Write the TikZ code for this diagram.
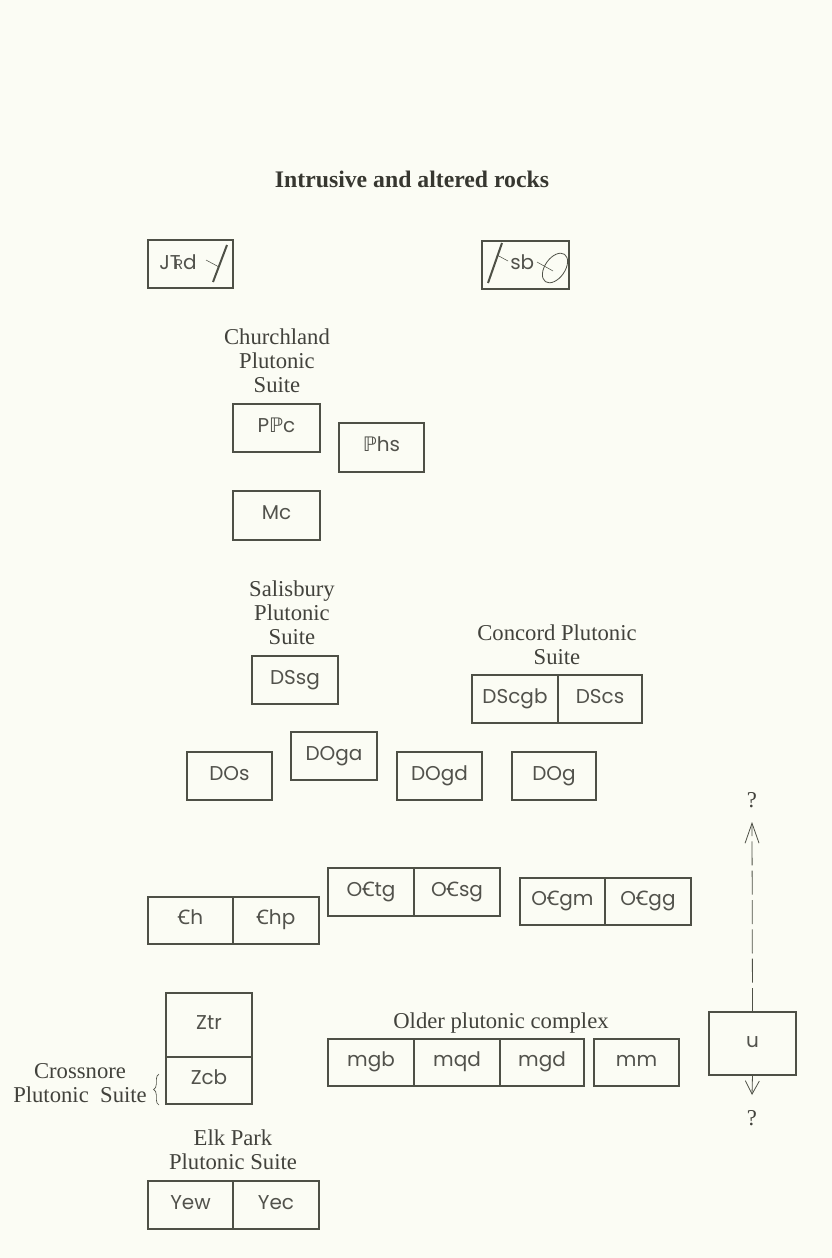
\documentclass[tikz,border=0pt]{standalone}
\usepackage{fontspec}
\usepackage{graphicx}
\setmainfont{Liberation Serif}
\newfontfamily\boxfont{Poppins}
\newfontfamily\dvs{DejaVu Sans}
\newfontfamily\notos{Noto Sans}
\usetikzlibrary{arrows.meta,decorations.pathreplacing}
\definecolor{paper}{RGB}{251,252,244}
\definecolor{ink}{RGB}{78,80,70}
\definecolor{txt}{RGB}{82,82,76}
\definecolor{labc}{RGB}{66,66,60}
\definecolor{titlec}{RGB}{55,55,48}
\newcommand\Tri{T\kern-0.30em\scalebox{0.7}{R}}
\newcommand\Penn{{\dvs ℙ}}
\newcommand\Camb{{\notos Ꞓ}}
\newcommand\bx[6]{\node[cell, minimum width={(#4-#2)*0.75pt}, minimum height={(#5-#3)*0.75pt}] (#1) at ({(#2+#4)/2},{(#3+#5)/2}) {#6};}
\begin{document}
\begin{tikzpicture}[x=0.75pt,y=-0.75pt,
  cell/.style={draw=ink, line width=0.8pt, inner sep=0pt, outer sep=0pt, font=\boxfont\fontsize{15}{17}\selectfont, text=txt, text height=0.8em, text depth=0.2em},
  lab/.style={font=\fontsize{17}{18}\selectfont, text=labc, align=center, inner sep=0pt},
  sym/.style={font=\boxfont\fontsize{15}{17}\selectfont, text=txt, inner sep=0pt},
  thin/.style={draw=ink, line width=0.4pt},
  thick/.style={draw=ink, line width=1.5pt}]
\useasboundingbox[fill=paper] (0,0) rectangle (832,1258);

\node[font=\bfseries\fontsize{17.8}{20}\selectfont, text=titlec, inner sep=0pt] (title) at (412,179) {Intrusive and altered rocks};

% top symbol boxes
\bx{jtrd}{148}{240}{233}{288}{}
\node[sym, anchor=base west] (jtrdt) at (159,269) {J\Tri d};
\draw[thin] (206,260) -- (219,267);
\draw[thick] (227,245) -- (213,282);

\bx{sb}{482}{241}{569}{289}{}
\node[sym, anchor=base west] (sbt) at (510,269) {sb};
\draw[thick] (502,243) -- (488,283);
\draw[thin] (497,255) -- (508,261);
\draw[thin] (537,262) -- (553,271);
\draw[ink, line width=0.6pt, rotate around={55:(555,268)}] (555,268) ellipse [x radius=12.5pt, y radius=7.5pt];

% Churchland
\node[lab] (church) at (277,361) {Churchland\\Plutonic\\Suite};
\bx{ppc}{233}{404}{320}{452}{P\Penn c}
\bx{phs}{339}{423}{424}{472}{\Penn hs}
\bx{mc}{233}{491}{320}{540}{Mc}

% Salisbury and Concord
\node[lab] (salis) at (292,613) {Salisbury\\Plutonic\\Suite};
\bx{dssg}{252}{656}{338}{704}{DSsg}
\node[lab] (concord) at (557,645) {Concord Plutonic\\Suite};
\bx{dscgb}{472}{675}{558}{723}{DScgb}
\bx{dscs}{558}{675}{642}{723}{DScs}

\bx{dos}{187}{752}{272}{800}{DOs}
\bx{doga}{291}{732}{377}{780}{DOga}
\bx{dogd}{397}{752}{482}{800}{DOgd}
\bx{dog}{512}{752}{596}{800}{DOg}

% Cambrian / Ordovician
\bx{ch}{148}{897}{233}{944}{\Camb h}
\bx{chp}{233}{897}{319}{944}{\Camb hp}
\bx{octg}{328}{868}{414}{916}{O\Camb tg}
\bx{ocsg}{414}{868}{500}{916}{O\Camb sg}
\bx{ocgm}{520}{878}{605}{925}{O\Camb gm}
\bx{ocgg}{605}{878}{691}{925}{O\Camb gg}

% Crossnore
\bx{ztr}{166}{993}{252}{1057}{Ztr}
\bx{zcb}{166}{1057}{252}{1104}{Zcb}
\node[lab] (cross) at (80,1083) {Crossnore\\Plutonic\ \ Suite};
\draw[ink, line width=0.5pt, decorate, decoration={brace, amplitude=4pt}] (159,1105) -- (159,1074);

% Older plutonic complex
\node[lab] (older) at (501,1023) {Older plutonic complex};
\bx{mgb}{328}{1039}{414}{1086}{mgb}
\bx{mqd}{414}{1039}{500}{1086}{mqd}
\bx{mgd}{500}{1039}{584}{1086}{mgd}
\bx{mm}{594}{1039}{679}{1086}{mm}

% u with arrows
\bx{u}{709}{1012}{796}{1075}{u}
\node[lab] (qtop) at (752,800) {?};
\node[lab] (qbot) at (752,1118) {?};
\coordinate (uptip) at (752,822);
\coordinate (dntip) at (752,1095);
\draw[ink, line width=0.6pt, dash pattern=on 18pt off 4pt, -{Straight Barb[length=15pt,width=10.5pt]}] (u.north) -- (uptip);
\draw[ink, line width=0.6pt, -{Straight Barb[length=10pt,width=10.5pt]}] (u.south) -- (dntip);

% Elk Park
\node[lab] (elk) at (233,1150) {Elk Park\\Plutonic Suite};
\bx{yew}{148}{1181}{233}{1229}{Yew}
\bx{yec}{233}{1181}{319}{1229}{Yec}
\end{tikzpicture}
\end{document}
